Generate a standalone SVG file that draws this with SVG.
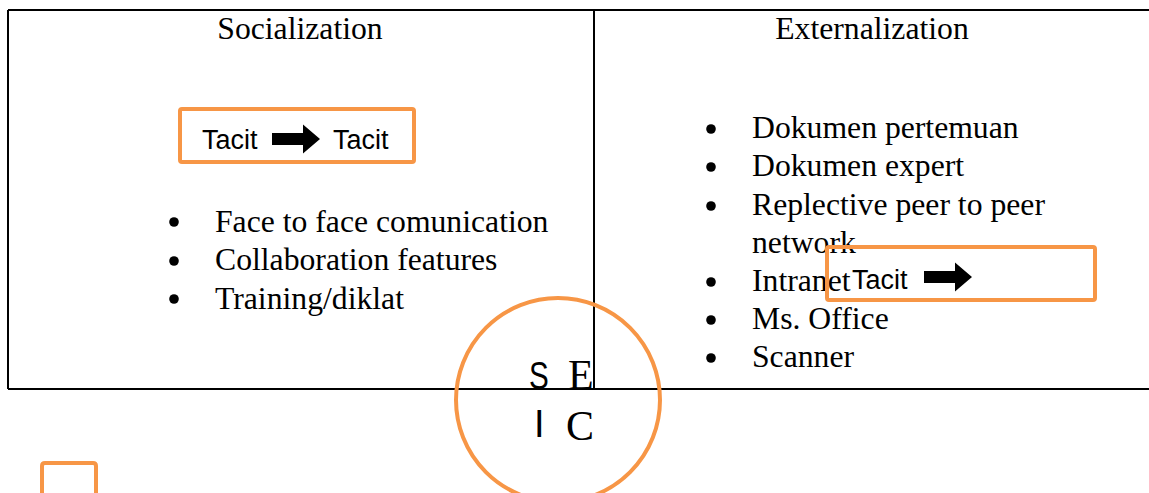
<svg xmlns="http://www.w3.org/2000/svg" width="1149" height="493" viewBox="0 0 1149 493">
<style>
.serif{font-family:"Liberation Serif","Times New Roman",serif;font-size:31.7px;fill:#000}
.sans{font-family:"Liberation Sans",Arial,sans-serif;fill:#000}
.ln{stroke:#000;stroke-width:2;fill:none}
.or{stroke:#F79646;stroke-width:4;fill:none}
.bul{fill:#000}
</style>
<defs>
<path id="blk" d="M0,-6 L31,-6 L31,-14.5 L48,0 L31,14.5 L31,6 L0,6 Z"/>
</defs>
<rect width="1149" height="493" fill="#fff"/>
<g id="table">
<line class="ln" x1="8" y1="10" x2="1149" y2="10"/>
<line class="ln" x1="8" y1="389" x2="1149" y2="389"/>
<line class="ln" x1="8" y1="10" x2="8" y2="389"/>
<line class="ln" x1="594" y1="10" x2="594" y2="389"/>
</g>
<g id="socialization">
<text class="serif" x="300" y="39" text-anchor="middle">Socialization</text>
<circle class="bul" cx="174" cy="222" r="4.8"/>
<circle class="bul" cx="174" cy="261" r="4.8"/>
<circle class="bul" cx="174" cy="299" r="4.8"/>
<text class="serif" x="215" y="232">Face to face comunication</text>
<text class="serif" x="215" y="270">Collaboration features</text>
<text class="serif" x="215" y="309">Training/diklat</text>
</g>
<g id="externalization">
<text class="serif" x="872" y="39" text-anchor="middle">Externalization</text>
<circle class="bul" cx="711" cy="129" r="4.8"/>
<circle class="bul" cx="711" cy="167" r="4.8"/>
<circle class="bul" cx="711" cy="206" r="4.8"/>
<circle class="bul" cx="711" cy="282" r="4.8"/>
<circle class="bul" cx="711" cy="320" r="4.8"/>
<circle class="bul" cx="711" cy="358" r="4.8"/>
<text class="serif" x="752" y="138">Dokumen pertemuan</text>
<text class="serif" x="752" y="176">Dokumen expert</text>
<text class="serif" x="752" y="215">Replective peer to peer</text>
<text class="serif" x="752" y="253">network</text>
<text class="serif" x="752" y="291">Intranet</text>
<text class="serif" x="752" y="329">Ms. Office</text>
<text class="serif" x="752" y="367">Scanner</text>
</g>
<g id="box-tacit-1">
<rect class="or" x="180" y="109" width="234" height="53" rx="2" style="fill:#fff"/>
<text class="sans" x="202" y="149" font-size="27">Tacit</text>
<use href="#blk" x="272" y="139"/>
<text class="sans" x="333" y="149" font-size="27">Tacit</text>
</g>
<g id="box-tacit-2">
<rect class="or" x="827" y="247" width="268" height="53" rx="2"/>
<text class="sans" x="852" y="289" font-size="27">Tacit</text>
<use href="#blk" x="924" y="277"/>
</g>
<g id="seci">
<circle cx="558" cy="400" r="102" stroke="#F79646" stroke-width="4" fill="none"/>
<text class="sans" font-size="38" transform="translate(529,389) scale(0.78,1)">S</text>
<text x="568" y="389" font-family="'Liberation Serif',serif" font-size="42">E</text>
<text class="sans" x="534" y="437" font-size="38">I</text>
<text x="566" y="440" font-family="'Liberation Serif',serif" font-size="42">C</text>
</g>
<g id="small-box">
<path class="or" d="M42,495 L42,466 Q42,463 45,463 L93,463 Q96,463 96,466 L96,495"/>
</g>
</svg>
